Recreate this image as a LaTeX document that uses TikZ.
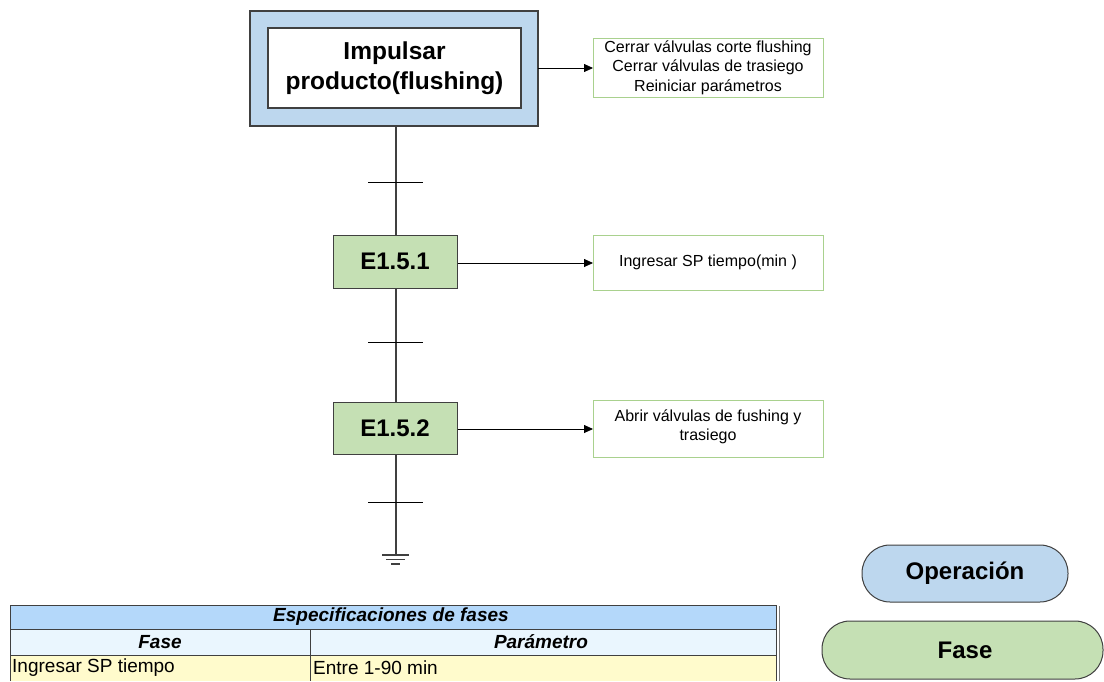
\documentclass[tikz,border=0pt]{standalone}
\usepackage{fontspec}
\setmainfont{Liberation Sans}
\usetikzlibrary{arrows.meta}
\definecolor{opblue}{HTML}{BDD7EE}
\definecolor{phgreen}{HTML}{C5E0B4}
\definecolor{actgreen}{HTML}{A9D18E}
\definecolor{edgegray}{HTML}{404040}
\definecolor{tabhead}{HTML}{B4D8FA}
\definecolor{tabsub}{HTML}{EAF6FE}
\definecolor{tabrow}{HTML}{FFFBCC}
\tikzset{
  x=1pt, y=-1pt,
  opbox/.style={draw=edgegray, line width=1.3pt, fill=opblue},
  innerbox/.style={draw=edgegray, line width=1.3pt, fill=white},
  phasebox/.style={draw=edgegray, line width=1pt, fill=phgreen, inner sep=0pt,
    font=\bfseries\fontsize{24}{28}\selectfont},
  actbox/.style={draw=actgreen, line width=1pt, fill=white},
  acttext/.style={align=center, font=\fontsize{16}{19.5}\selectfont},
  link/.style={line width=0.8pt, -{Triangle[length=9pt,width=8pt]}},
  rail/.style={draw=edgegray, line width=1.1pt},
  tick/.style={line width=1pt},
  pill/.style={draw=edgegray, line width=1pt, rounded corners=28pt},
  pilltext/.style={font=\bfseries\fontsize{24}{28}\selectfont},
  tabline/.style={draw=edgegray, line width=1pt},
  tabhd/.style={font=\itshape\bfseries\fontsize{19}{22}\selectfont},
  tabtx/.style={anchor=west, inner sep=0pt, font=\fontsize{19}{22}\selectfont},
}
\begin{document}
\begin{tikzpicture}
\useasboundingbox (0,0) rectangle (1104,681);

% operation block
\draw[opbox] (250,11) rectangle (538,126);
\draw[innerbox] (268,28) rectangle (521,108);
\node[align=center, font=\bfseries\fontsize{24.5}{30}\selectfont] (op) at (394.5,68) {Impulsar\\producto(flushing)};
\coordinate (opR) at (538,68);
\coordinate (opB) at (396,126);

% action boxes
\draw[actbox] (593,38) rectangle (823,97);
\node[acttext] (a1) at (708,67.5) {Cerrar válvulas corte flushing\\Cerrar válvulas de trasiego\\Reiniciar parámetros};
\coordinate (a1L) at (593,68);

\draw[actbox] (593,235) rectangle (823,290);
\node[acttext] (a2) at (708,262.5) {Ingresar SP tiempo(min )};
\coordinate (a2L) at (593,263);

\draw[actbox] (593,400) rectangle (823,457);
\node[acttext] (a3) at (708,427) {Abrir válvulas de fushing y\\trasiego};
\coordinate (a3L) at (593,429);

% phase steps
\node[phasebox, minimum width=124pt, minimum height=53pt] (e1) at (395,261.5) {E1.5.1};
\node[phasebox, minimum width=124pt, minimum height=52pt] (e2) at (395,428) {E1.5.2};

% main rail with transitions
\coordinate (gnd) at (396,555);
\draw[rail] (opB) -- (e1.north -| opB);
\draw[rail] (e1.south -| opB) -- (e2.north -| opB);
\draw[rail] (e2.south -| opB) -- (gnd);
\foreach \ty in {182,342,502} \draw[tick] (368,\ty) -- (423,\ty);

% ground symbol
\draw[line width=1.6pt, edgegray] (382,555) -- (409,555);
\draw[line width=1.3pt, edgegray] (386,559.5) -- (405,559.5);
\draw[line width=1.3pt, edgegray] (391,564) -- (400,564);

% arrows to actions
\draw[link] (opR) -- (a1L);
\draw[link] (e1.east |- a2L) -- (a2L);
\draw[link] (e2.east |- a3L) -- (a3L);

% legend
\draw[pill, fill=opblue] (862,545) rectangle (1068,602);
\node[pilltext] (lop) at (965,573.5) {Operación};
\draw[pill, fill=phgreen] (822,621) rectangle (1103,679);
\node[pilltext] (lph) at (965,650) {Fase};

% phase specification table
\fill[tabhead] (10,605) rectangle (776,629);
\fill[tabsub] (10,629) rectangle (776,655);
\fill[tabrow] (10,655) rectangle (776,681);
\draw[tabline] (10,681) -- (10,605) -- (776,605) -- (776,681);
\draw[tabline] (10,629) -- (776,629);
\draw[tabline] (10,655) -- (776,655);
\draw[tabline] (310,629) -- (310,681);
\draw[line width=0.8pt, edgegray!70] (779,606) -- (779,681);
\node[tabhd] (th) at (391,617) {Especificaciones de fases};
\node[tabhd] (c1) at (160,642) {Fase};
\node[tabhd] (c2) at (541,642) {Parámetro};
\node[tabtx] (r1) at (12,667.5) {Ingresar SP tiempo};
\node[tabtx] (r2) at (313,667.5) {Entre 1-90 min};
\end{tikzpicture}
\end{document}
